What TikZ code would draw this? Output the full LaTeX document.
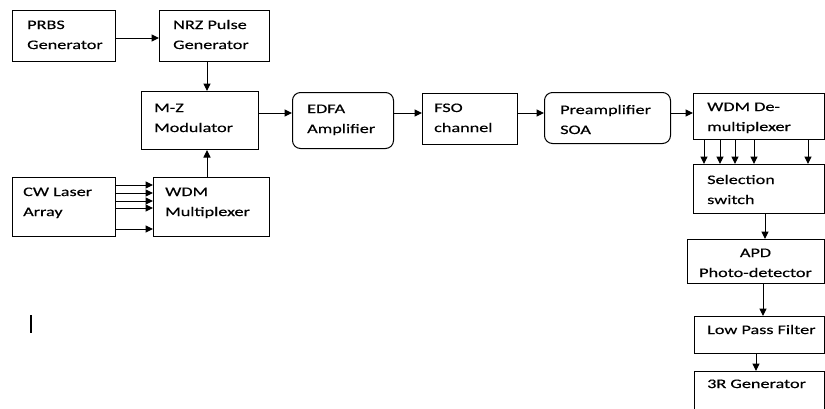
\documentclass[tikz,border=0pt]{standalone}
\usepackage{fontspec}
\setmainfont{Carlito}[FakeStretch=1.4, FakeBold=0.4]
\usetikzlibrary{arrows.meta}
\begin{document}
\begin{tikzpicture}[x=1pt,y=-1pt,
  box/.style={draw, line width=1pt, inner sep=0, anchor=north west},
  rbox/.style={box, rounded corners=8pt},
  lbl/.style={anchor=west, align=left, inner sep=0, font=\fontsize{13}{20}\selectfont},
  arr/.style={line width=1pt, -{Triangle[length=7.5pt,width=7pt]}}]
\useasboundingbox (0,0) rectangle (825,408);
\clip (0,0) rectangle (825,408);
% boxes
\node[box, minimum width=103, minimum height=51] (prbs) at (12,10) {};
\node[box, minimum width=110, minimum height=51] (nrz) at (159,10) {};
\node[box, minimum width=117, minimum height=58] (mz) at (141,91) {};
\node[box, minimum width=103, minimum height=59] (cw) at (12,177) {};
\node[box, minimum width=116, minimum height=59] (mux) at (153,177) {};
\node[rbox, minimum width=101, minimum height=56] (edfa) at (292,92) {};
\node[box, minimum width=95, minimum height=51] (fso) at (422,93) {};
\node[rbox, minimum width=126, minimum height=51] (pre) at (544,92) {};
\node[box, minimum width=131, minimum height=46] (dmx) at (693,93) {};
\node[box, minimum width=131, minimum height=49] (sel) at (693,164) {};
\node[box, minimum width=137, minimum height=44] (apd) at (687,239) {};
\node[box, minimum width=130, minimum height=37] (lpf) at (694,316) {};
\node[box, minimum width=130, minimum height=50] (rgen) at (694,371) {};
% labels
\node[lbl] (prbs-t) at (27,35) {\strut PRBS\\\strut Generator};
\node[lbl] (nrz-t) at (173,35) {\strut NRZ Pulse\\\strut Generator};
\node[lbl] (mz-t) at (154,118) {\strut M-Z\\\strut Modulator};
\node[lbl] (cw-t) at (23,202) {\strut CW Laser\\\strut Array};
\node[lbl] (mux-t) at (165,202) {\strut WDM\\\strut Multiplexer};
\node[lbl] (edfa-t) at (307,119) {\strut EDFA\\\strut Amplifier};
\node[lbl] (fso-t) at (434,118) {\strut FSO\\\strut channel};
\node[lbl] (pre-t) at (560,120) {\strut Preamplifier\\\strut SOA};
\node[lbl] (dmx-t) at (707,117) {\strut WDM De-\\\strut multiplexer};
\node[lbl] (sel-t) at (707,190) {\strut Selection\\\strut switch};
\node[lbl, anchor=center, align=center] (apd-t) at (755.5,263) {\strut APD\\\strut Photo-detector};
\node[lbl] (lpf-t) at (707,330) {\strut Low Pass Filter};
\node[lbl] (rgen-t) at (707,384) {\strut 3R Generator};
% helper coordinates
\coordinate (xa) at (207,0);
\coordinate (ya) at (0,113);
\coordinate (y1) at (0,38);
% connectors
\draw[arr] (prbs.east |- y1) -- (nrz.west |- y1);
\draw[arr] (nrz.south -| xa) -- (mz.north -| xa);
\draw[arr] (mux.north -| xa) -- (mz.south -| xa);
\draw[arr] (mz.east |- ya) -- (edfa.west |- ya);
\draw[arr] (edfa.east |- ya) -- (fso.west |- ya);
\draw[arr] (fso.east |- ya) -- (pre.west |- ya);
\draw[arr] (pre.east |- ya) -- (dmx.west |- ya);
\foreach \yy in {185,193,201,208,229}{
  \coordinate (cy) at (0,\yy);
  \draw[arr] (cw.east |- cy) -- (mux.west |- cy);
}
\foreach \xx in {704,720,735,754,808}{
  \coordinate (dx) at (\xx,0);
  \draw[arr] (dmx.south -| dx) -- (sel.north -| dx);
}
\coordinate (x1) at (765,0);
\coordinate (x2) at (763,0);
\coordinate (x3) at (756,0);
\draw[arr] (sel.south -| x1) -- (apd.north -| x1);
\draw[arr] (apd.south -| x2) -- (lpf.north -| x2);
\draw[arr] (lpf.south -| x3) -- (rgen.north -| x3);
% cursor mark
\draw[line width=2.6pt] (31,315) -- (31,333);
\end{tikzpicture}
\end{document}
